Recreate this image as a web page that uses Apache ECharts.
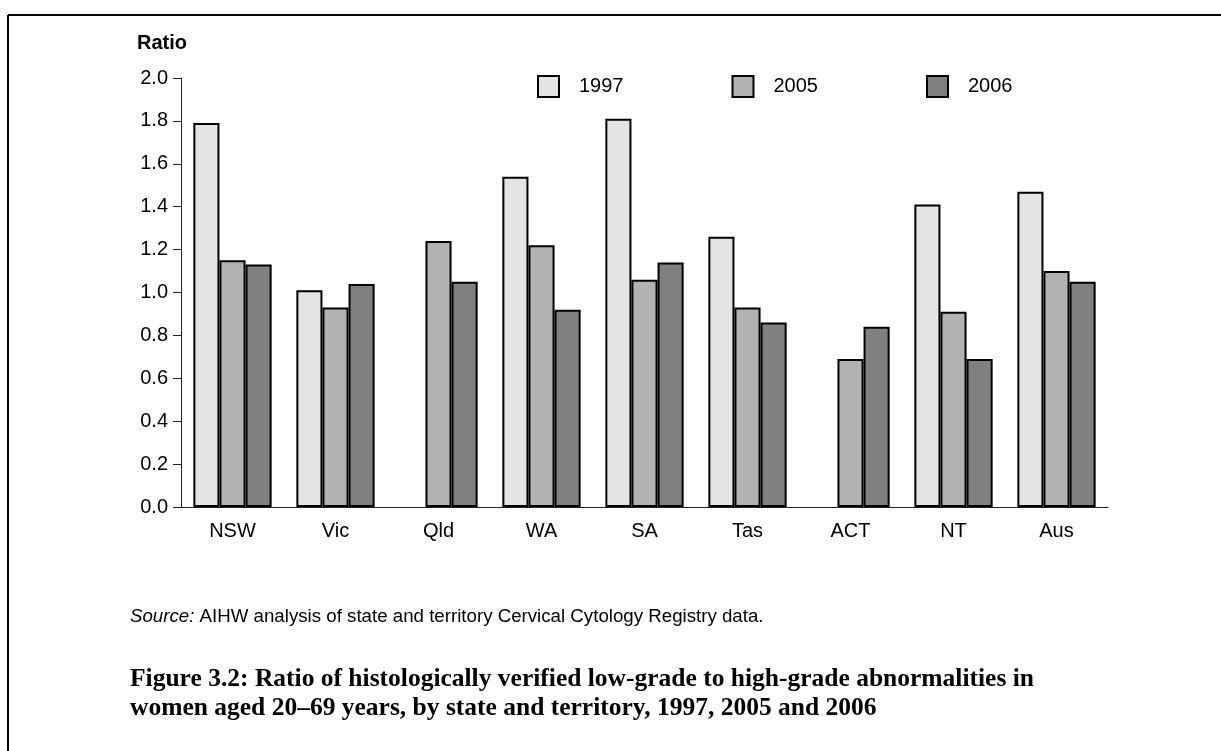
<!DOCTYPE html>
<html>
<head>
<meta charset="utf-8">
<script src="https://cdn.jsdelivr.net/npm/echarts@6/dist/echarts.min.js"></script>
<style>
	html, body { margin: 0; padding: 0; background: #fff; }
	#chart { width: 1221px; height: 751px; }
</style>
</head>
<body>
<div id="chart"></div>
<script>
var states = ['NSW', 'Vic', 'Qld', 'WA', 'SA', 'Tas', 'ACT', 'NT', 'Aus'];
var years = ['1997', '2005', '2006'];
// '-' where no 1997 figure was reported
var ratio1997 = [1.79, 1.01, '-', 1.54, 1.81, 1.26, '-', 1.41, 1.47];
var ratio2005 = [1.15, 0.93, 1.24, 1.22, 1.06, 0.93, 0.69, 0.91, 1.10];
var ratio2006 = [1.13, 1.04, 1.05, 0.92, 1.14, 0.86, 0.84, 0.69, 1.05];
var barColors = ['#e4e4e4', '#b2b2b2', '#808080'];

var sans = '"Liberation Sans", Arial, sans-serif';
var serif = '"Liberation Serif", "Times New Roman", serif';

var chart = echarts.init(document.getElementById('chart'));

function barSeries(name, data, color){
	return {
		name: name,
		type: 'bar',
		data: data,
		barGap: '0%',
		barCategoryGap: '24%',
		itemStyle: { color: color, borderColor: '#000', borderWidth: 2 }
	};
}

var option = {
	animation: false,
	grid: { left: 181, right: 113, top: 78, bottom: 244 },
	legend: {
		data: years,
		icon: 'rect',
		left: 532,
		top: 70,
		itemWidth: 21,
		itemHeight: 21,
		itemGap: 108,
		selectedMode: false,
		textStyle: { fontFamily: sans, fontSize: 20, color: '#000', padding: [0, 0, 0, 15] }
	},
	xAxis: {
		type: 'category',
		data: states,
		axisLine: { lineStyle: { color: '#222', width: 1 } },
		axisTick: { length: 8, lineStyle: { color: '#222' } },
		axisLabel: { fontFamily: sans, fontSize: 20, color: '#000', margin: 14 }
	},
	yAxis: {
		type: 'value',
		min: 0,
		max: 2,
		interval: 0.2,
		splitLine: { show: false },
		axisLine: { show: true, lineStyle: { color: '#222', width: 1 } },
		axisTick: { show: true, length: 8, lineStyle: { color: '#222' } },
		axisLabel: {
			fontFamily: sans, fontSize: 20, color: '#000', margin: 13,
			formatter: function(v){ return v.toFixed(1); }
		}
	},
	series: [
		barSeries(years[0], ratio1997, barColors[0]),
		barSeries(years[1], ratio2005, barColors[1]),
		barSeries(years[2], ratio2006, barColors[2])
	],
	graphic: [
		// page frame, top and left edges
		{ type: 'line', shape: { x1: 8, y1: 15, x2: 1221, y2: 15 }, style: { stroke: '#000', lineWidth: 2 } },
		{ type: 'line', shape: { x1: 8, y1: 15, x2: 8, y2: 751 }, style: { stroke: '#000', lineWidth: 2 } },
		{
			type: 'text', left: 137, top: 33,
			style: { text: 'Ratio', fontFamily: sans, fontSize: 20, fontWeight: 'bold', fill: '#000' }
		},
		{
			type: 'text', x: 130, y: 617,
			style: {
				text: '{i|Source:} AIHW analysis of state and territory Cervical Cytology Registry data.',
				fontFamily: sans, fontSize: 18.7, fill: '#000', verticalAlign: 'middle',
				rich: { i: { fontFamily: sans, fontSize: 18.7, fontStyle: 'italic' } }
			}
		},
		{
			type: 'text', x: 130, y: 679,
			style: {
				text: 'Figure 3.2: Ratio of histologically verified low-grade to high-grade abnormalities in',
				fontFamily: serif, fontSize: 25.5, fontWeight: 'bold', fill: '#000', verticalAlign: 'middle'
			}
		},
		{
			type: 'text', x: 130, y: 708,
			style: {
				text: 'women aged 20\u201369 years, by state and territory, 1997, 2005 and 2006',
				fontFamily: serif, fontSize: 25.5, fontWeight: 'bold', fill: '#000', verticalAlign: 'middle'
			}
		}
	]
};

chart.setOption(option);
</script>
</body>
</html>
